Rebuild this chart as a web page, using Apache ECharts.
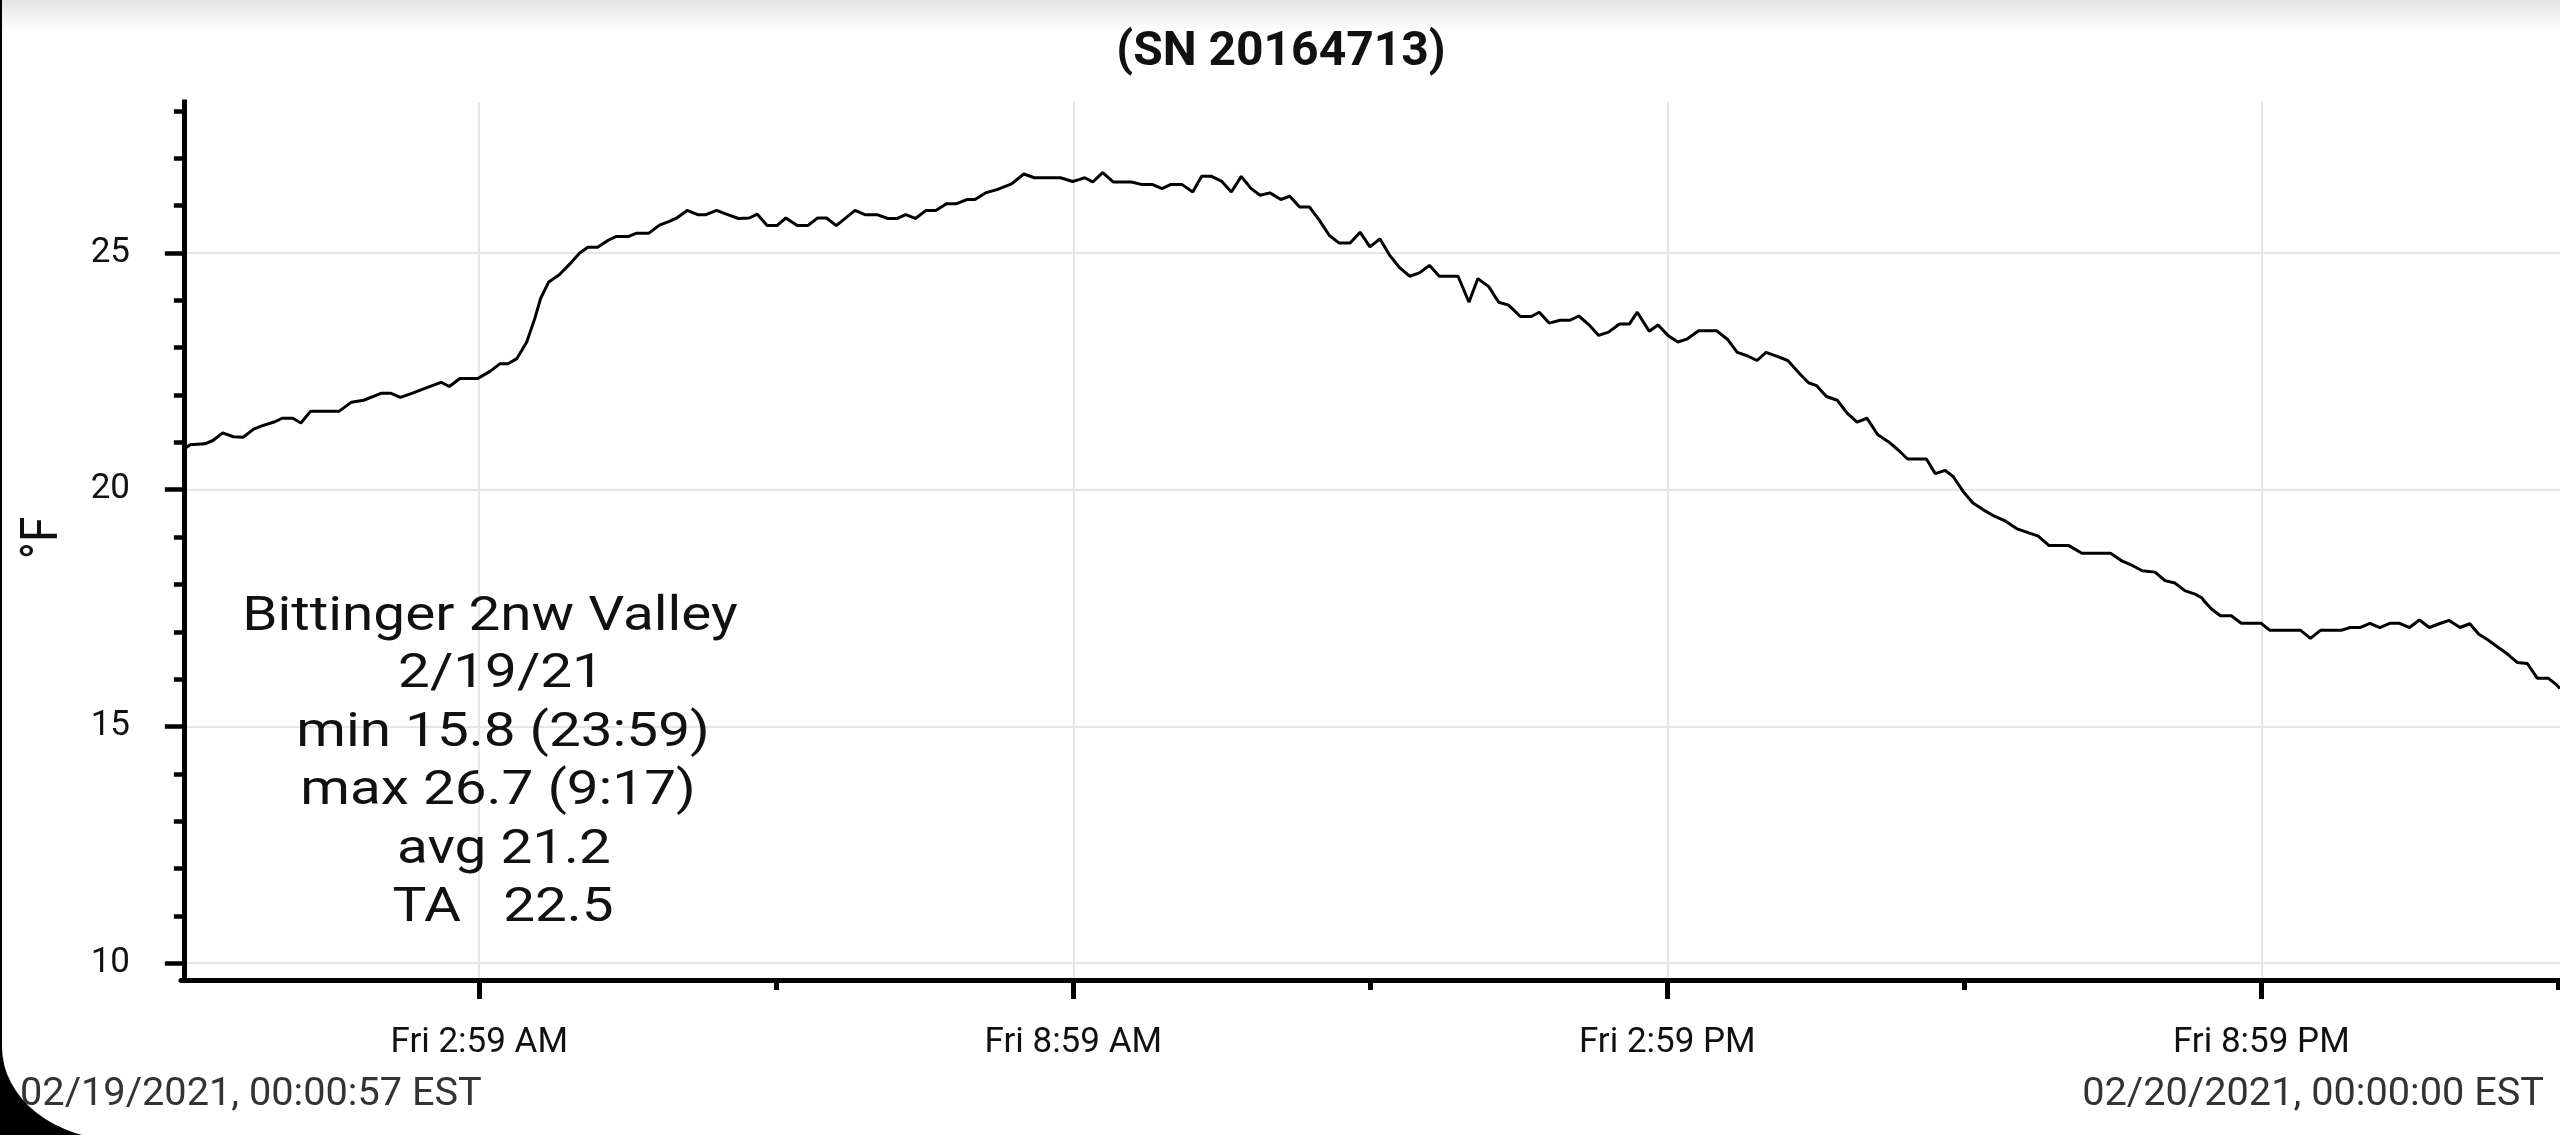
<!DOCTYPE html>
<html>
<head>
<meta charset="utf-8">
<script src="https://cdn.jsdelivr.net/npm/echarts@6/dist/echarts.min.js"></script>
<style>
  html, body { margin: 0; padding: 0; background: #000; overflow: hidden; }
  #paper { position: absolute; left: 2px; top: 0; width: 2558px; height: 1140px; background: #fff;
           border-bottom-left-radius: 118px 93px; }
  #chart { position: absolute; left: 0; top: 0; width: 2560px; height: 1135px; }
</style>
</head>
<body>
<div id="paper"></div>
<div id="chart"></div>
<script>
// ---- data (hours since midnight 02/19/2021, temperature °F) ----
const hours = [
  0.016, 0.064, 0.212, 0.294, 0.392, 0.5, 0.598, 0.705, 0.787, 0.911, 0.993, 1.1, 1.182, 1.281, 1.569,
  1.693, 1.816, 1.997, 2.088, 2.187, 2.31, 2.434, 2.598, 2.681, 2.788, 2.969, 3.092, 3.191, 3.273, 3.364,
  3.463, 3.545, 3.603, 3.685, 3.792, 3.899, 3.998, 4.08, 4.179, 4.286, 4.368, 4.492, 4.574, 4.697, 4.804,
  4.903, 4.985, 5.084, 5.19, 5.273, 5.38, 5.479, 5.602, 5.71, 5.792, 5.891, 5.99, 6.08, 6.195, 6.302,
  6.401, 6.491, 6.59, 6.779, 6.878, 7.002, 7.109, 7.207, 7.29, 7.389, 7.496, 7.595, 7.702, 7.8, 7.907,
  7.99, 8.097, 8.212, 8.36, 8.484, 8.591, 8.854, 8.977, 9.04, 9.1, 9.18, 9.28, 9.39, 9.57, 9.67,
  9.78, 9.88, 9.97, 10.08, 10.19, 10.28, 10.38, 10.48, 10.58, 10.68, 10.78, 10.87, 10.97, 11.08, 11.17,
  11.27, 11.37, 11.47, 11.57, 11.67, 11.78, 11.88, 11.98, 12.08, 12.18, 12.28, 12.38, 12.48, 12.58, 12.68,
  12.87, 12.98, 13.07, 13.18, 13.28, 13.38, 13.5, 13.61, 13.69, 13.79, 13.9, 14.0, 14.09, 14.19, 14.29,
  14.39, 14.5, 14.6, 14.68, 14.8, 14.89, 14.99, 15.09, 15.18, 15.3, 15.48, 15.59, 15.69, 15.79, 15.89,
  15.98, 16.1, 16.2, 16.33, 16.41, 16.49, 16.59, 16.7, 16.8, 16.9, 17.0, 17.11, 17.22, 17.31, 17.41,
  17.6, 17.69, 17.79, 17.87, 17.97, 18.07, 18.18, 18.28, 18.39, 18.51, 18.62, 18.73, 18.84, 19.04, 19.17,
  19.46, 19.58, 19.69, 19.78, 19.91, 20.01, 20.11, 20.21, 20.32, 20.38, 20.41, 20.48, 20.57, 20.68, 20.78,
  20.98, 21.07, 21.38, 21.48, 21.58, 21.79, 21.88, 21.98, 22.08, 22.18, 22.28, 22.38, 22.48, 22.58, 22.68,
  22.78, 22.88, 22.99, 23.09, 23.18, 23.27, 23.37, 23.47, 23.57, 23.67, 23.77, 23.88, 23.96, 24.0
];
const temps = [
  20.88, 20.95, 20.97, 21.04, 21.2, 21.12, 21.11, 21.28, 21.35, 21.43, 21.51, 21.51, 21.41, 21.66, 21.66,
  21.85, 21.89, 22.04, 22.04, 21.95, 22.04, 22.14, 22.27, 22.18, 22.35, 22.35, 22.5, 22.66, 22.66, 22.77,
  23.12, 23.62, 24.04, 24.39, 24.54, 24.77, 25.0, 25.12, 25.12, 25.27, 25.35, 25.35, 25.42, 25.42, 25.59,
  25.67, 25.75, 25.9, 25.81, 25.81, 25.9, 25.82, 25.73, 25.74, 25.82, 25.58, 25.58, 25.74, 25.58, 25.58,
  25.74, 25.74, 25.58, 25.9, 25.81, 25.81, 25.73, 25.73, 25.81, 25.73, 25.9, 25.9, 26.04, 26.04, 26.13,
  26.13, 26.27, 26.34, 26.46, 26.67, 26.59, 26.59, 26.51, 26.55, 26.59, 26.5, 26.7, 26.5, 26.5, 26.45,
  26.45, 26.36, 26.45, 26.45, 26.29, 26.62, 26.62, 26.52, 26.29, 26.62, 26.36, 26.22, 26.27, 26.13, 26.2,
  25.97, 25.97, 25.69, 25.37, 25.21, 25.21, 25.44, 25.13, 25.3, 24.95, 24.69, 24.51, 24.58, 24.74, 24.51,
  24.51, 23.96, 24.46, 24.29, 23.96, 23.9, 23.66, 23.66, 23.75, 23.52, 23.58, 23.58, 23.67, 23.49, 23.26,
  23.33, 23.5, 23.5, 23.75, 23.35, 23.48, 23.26, 23.12, 23.18, 23.36, 23.36, 23.18, 22.9, 22.83, 22.73,
  22.9, 22.81, 22.73, 22.43, 22.26, 22.2, 21.97, 21.89, 21.62, 21.43, 21.51, 21.16, 21.01, 20.85, 20.65,
  20.65, 20.34, 20.41, 20.28, 19.97, 19.72, 19.57, 19.45, 19.35, 19.18, 19.1, 19.02, 18.82, 18.82, 18.66,
  18.66, 18.49, 18.39, 18.29, 18.26, 18.08, 18.03, 17.87, 17.79, 17.72, 17.64, 17.48, 17.34, 17.34, 17.18,
  17.18, 17.03, 17.03, 16.86, 17.03, 17.03, 17.09, 17.09, 17.18, 17.09, 17.18, 17.18, 17.09, 17.25, 17.09,
  17.17, 17.24, 17.09, 17.17, 16.95, 16.83, 16.68, 16.53, 16.35, 16.33, 16.02, 16.02, 15.89, 15.8
];

// ---- axes / ticks / labels ----
const yMajorTicks = [10, 15, 20, 25];
const yMinorTicks = [11, 12, 13, 14, 16, 17, 18, 19, 21, 22, 23, 24, 26, 27, 28];
const xMajorTicks = [2.98333, 8.98333, 14.98333, 20.98333];
const xMinorTicks = [5.98333, 11.98333, 17.98333, 23.98333];
const xTickLabels = ['Fri 2:59 AM', 'Fri 8:59 AM', 'Fri 2:59 PM', 'Fri 8:59 PM'];
const yAxisName = '°F';
const titleText = '(SN 20164713)';
const infoLines = ['Bittinger 2nw Valley', '2/19/21', 'min 15.8 (23:59)', 'max 26.7 (9:17)', 'avg 21.2', 'TA   22.5'];
const footerLeft = '02/19/2021, 00:00:57 EST';
const footerRight = '02/20/2021, 00:00:00 EST';

const X_MIN = -0.029, X_MAX = 24.0;
const Y_MIN = 9.645, Y_MAX = 28.19;
const FONT = 'Roboto, "Noto Sans", sans-serif';

// layout of the info block lines (pixel centres)
const infoX = [490, 501, 503, 498, 504, 503];
const infoY = [618, 675, 734, 792, 851, 909];

const graphics = [
  {
    type: 'rect', z: -10, silent: true,
    shape: { x: 0, y: 0, width: 2560, height: 32 },
    style: { fill: new echarts.graphic.LinearGradient(0, 0, 0, 1, [
      { offset: 0, color: 'rgba(0,0,0,0.10)' }, { offset: 1, color: 'rgba(0,0,0,0)' }
    ]) }
  },
  {
    type: 'text', x: 1281, y: 53, silent: true,
    style: { text: titleText, align: 'center', verticalAlign: 'middle', fill: '#111',
             font: 'bold 48px ' + FONT }
  },
  {
    type: 'text', x: 44, y: 538, rotation: Math.PI / 2, scaleY: 1.12, silent: true,
    style: { text: yAxisName, align: 'center', verticalAlign: 'middle', fill: '#111',
             font: '46px ' + FONT }
  },
  {
    type: 'text', x: 20, y: 1095, scaleX: 1.045, silent: true,
    style: { text: footerLeft, align: 'left', verticalAlign: 'middle', fill: '#333',
             font: '38px ' + FONT }
  },
  {
    type: 'text', x: 2544, y: 1095, scaleX: 1.045, silent: true,
    style: { text: footerRight, align: 'right', verticalAlign: 'middle', fill: '#333',
             font: '38px ' + FONT }
  }
];
infoLines.forEach(function (line, i) {
  graphics.push({
    type: 'text', x: infoX[i], y: infoY[i], scaleX: 1.18, silent: true, z: 10,
    style: { text: line, align: 'center', verticalAlign: 'middle', fill: '#111',
             font: '48px ' + FONT }
  });
});

const chart = echarts.init(document.getElementById('chart'));
const option = {
  animation: false,
  grid: { left: 181, top: 102, width: 2383, height: 878, containLabel: false },
  xAxis: [
    {
      type: 'value', min: X_MIN, max: X_MAX, position: 'bottom',
      axisLine: { show: true, lineStyle: { color: '#000', width: 5 } },
      axisTick: { show: true, customValues: xMajorTicks, length: 19, lineStyle: { color: '#000', width: 5 } },
      axisLabel: {
        customValues: xMajorTicks, margin: 46, color: '#111', fontSize: 35, fontFamily: FONT,
        formatter: function (v) {
          let best = 0;
          xMajorTicks.forEach(function (t, i) { if (Math.abs(t - v) < Math.abs(xMajorTicks[best] - v)) best = i; });
          return xTickLabels[best];
        }
      },
      splitLine: { show: true, lineStyle: { color: '#e6e6e6', width: 2 } }
    },
    {
      type: 'value', min: X_MIN, max: X_MAX, position: 'bottom',
      axisLine: { show: false },
      axisTick: { show: true, customValues: xMinorTicks, length: 10, lineStyle: { color: '#000', width: 5 } },
      axisLabel: { show: false },
      splitLine: { show: false }
    }
  ],
  yAxis: [
    {
      type: 'value', min: Y_MIN, max: Y_MAX, position: 'left',
      axisLine: { show: true, lineStyle: { color: '#000', width: 5, cap: 'square' } },
      axisTick: { show: true, customValues: yMajorTicks, length: 19, lineStyle: { color: '#000', width: 4.5 } },
      axisLabel: { customValues: yMajorTicks, margin: 51, color: '#111', fontSize: 35, fontFamily: FONT },
      splitLine: { show: true, lineStyle: { color: '#e6e6e6', width: 2 } }
    },
    {
      type: 'value', min: Y_MIN, max: Y_MAX, position: 'left',
      axisLine: { show: false },
      axisTick: { show: true, customValues: yMinorTicks, length: 10, lineStyle: { color: '#000', width: 4.5 } },
      axisLabel: { show: false },
      splitLine: { show: false }
    }
  ],
  series: [{
    type: 'line',
    xAxisIndex: 0, yAxisIndex: 0,
    data: hours.map(function (h, i) { return [h, temps[i]]; }),
    showSymbol: false,
    lineStyle: { color: '#000', width: 3 },
    clip: true,
    z: 5
  }],
  graphic: graphics
};
chart.setOption(option);
</script>
</body>
</html>
